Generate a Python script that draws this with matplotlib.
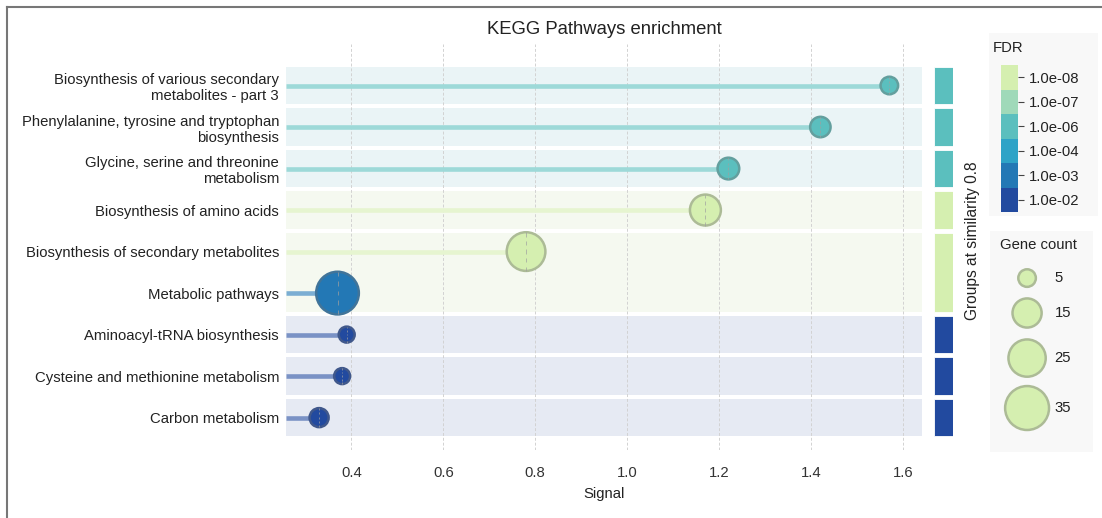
import numpy as np
import matplotlib
matplotlib.use("Agg")
import matplotlib.pyplot as plt
from matplotlib.colors import to_rgb
from matplotlib.path import Path
from matplotlib.lines import Line2D
from matplotlib.patches import Rectangle

plt.rcParams['font.family'] = ['Liberation Sans', 'DejaVu Sans']

# KEGG enrichment results, top to bottom
pathways = [
    "Biosynthesis of various secondary\nmetabolites - part 3",
    "Phenylalanine, tyrosine and tryptophan\nbiosynthesis",
    "Glycine, serine and threonine\nmetabolism",
    "Biosynthesis of amino acids",
    "Biosynthesis of secondary metabolites",
    "Metabolic pathways",
    "Aminoacyl-tRNA biosynthesis",
    "Cysteine and methionine metabolism",
    "Carbon metabolism",
]
signal = [1.57, 1.42, 1.22, 1.17, 0.78, 0.37, 0.39, 0.38, 0.33]
gene_count = [5, 7, 8, 17, 27, 33, 4, 4, 6]
fdr = ["1.0e-06", "1.0e-06", "1.0e-06", "1.0e-08", "1.0e-08",
       "1.0e-03", "1.0e-02", "1.0e-02", "1.0e-02"]

# similarity clusters (rows sharing an id share a block) and group FDR
cluster = [0, 1, 2, 3, 4, 4, 5, 6, 7]
group_fdr = ["1.0e-06", "1.0e-06", "1.0e-06", "1.0e-08", "1.0e-08",
             "1.0e-08", "1.0e-02", "1.0e-02", "1.0e-02"]

fdr_levels = ["1.0e-08", "1.0e-07", "1.0e-06", "1.0e-04", "1.0e-03", "1.0e-02"]
fdr_colors = ["#d5efb0", "#9fd9b9", "#5bbfbe", "#2ea3c7", "#2378b5", "#224a9f"]
band_colors = {"1.0e-06": "#eaf4f6", "1.0e-08": "#f5f9f0", "1.0e-02": "#e6eaf3"}

legend_counts = [5, 15, 25, 35]

W, H = 1102, 518
FS = 10.7


def color_of(level):
    return fdr_colors[fdr_levels.index(level)]


def mix(c, other, t):
    a = np.array(to_rgb(c))
    b = np.array(to_rgb(other))
    return tuple(a * (1 - t) + b * t)


def marker_area(c):
    return 28 * c + 20


def fig_rect(x0, y0, x1, y1):
    # pixel box -> figure fraction [left, bottom, width, height]
    return [x0 / W, 1 - y1 / H, (x1 - x0) / W, (y1 - y0) / H]


fig = plt.figure(figsize=(W / 100, H / 100), dpi=100)

# legend backgrounds, kept behind every axes
fig.patches.append(Rectangle((989 / W, 1 - 216 / H), 109 / W, 183 / H,
                             transform=fig.transFigure, facecolor="#f8f8f8",
                             edgecolor="none", zorder=-5))
fig.patches.append(Rectangle((990 / W, 1 - 452 / H), 103 / W, 221 / H,
                             transform=fig.transFigure, facecolor="#f8f8f8",
                             edgecolor="none", zorder=-5))

ax = fig.add_axes(fig_rect(286, 44, 922, 450))

rows = np.arange(len(pathways))
x_min, x_max = 0.258, 1.641
half = 0.45

# background blocks per cluster
for cid in sorted(set(cluster)):
    members = [i for i in rows if cluster[i] == cid]
    lo, hi = min(members), max(members)
    ax.axhspan(lo - half, hi + half, color=band_colors[group_fdr[lo]], lw=0, zorder=0)

# stems
for i in rows:
    c = color_of(fdr[i])
    ax.hlines(i, x_min, signal[i], color=mix(c, "white", 0.4), lw=3.3, zorder=2)

# circles
fills = [color_of(f) for f in fdr]
edges = [mix(c, "#6e6e6e", 0.4) for c in fills]
sizes = [marker_area(c) for c in gene_count]
ax.scatter(signal, rows, s=sizes, c=fills, edgecolors=edges, linewidths=1.8, zorder=3)

# dashed centre line inside each circle
verts, codes = [], []
for k in range(5):
    y0 = -0.9 + k * 0.4
    verts += [(0, y0), (0, y0 + 0.2)]
    codes += [Path.MOVETO, Path.LINETO]
dash_marker = Path(verts, codes)
ax.scatter(signal, rows, s=sizes, marker=dash_marker, facecolors="none",
           edgecolors="#a0a0a0", linewidths=0.7, alpha=0.7, zorder=4)

ax.set_xlim(x_min, x_max)
ax.set_ylim(8.78, -1.0)
ax.set_xticks([0.4, 0.6, 0.8, 1.0, 1.2, 1.4, 1.6])
ax.set_xticklabels(["0.4", "0.6", "0.8", "1.0", "1.2", "1.4", "1.6"])
ax.set_yticks(rows)
ax.set_yticklabels(pathways)
ax.tick_params(axis="y", length=0, pad=5, labelsize=FS, labelcolor="#222222")
ax.tick_params(axis="x", length=0, pad=11.5, labelsize=FS, labelcolor="#333333")
ax.set_axisbelow(True)
ax.grid(axis="x", color="#d2d2d2", linestyle=(0, (3, 2)), lw=0.7)
for sp in ax.spines.values():
    sp.set_visible(False)
ax.set_xlabel("Signal", fontsize=FS, color="#222222", labelpad=5)
ax.set_title("KEGG Pathways enrichment", fontsize=13.3, color="#222222", pad=7)

# group colour strip
gb = fig.add_axes(fig_rect(934, 44, 953, 450), sharey=ax)
for cid in sorted(set(cluster)):
    members = [i for i in rows if cluster[i] == cid]
    lo, hi = min(members), max(members)
    gb.add_patch(Rectangle((0, lo - half), 1, hi - lo + 2 * half,
                           facecolor=color_of(group_fdr[lo]), edgecolor="white", lw=0.6))
gb.set_xlim(0, 1)
gb.set_xticks([])
gb.tick_params(axis="y", left=False, labelleft=False)
for sp in gb.spines.values():
    sp.set_visible(False)
gb.yaxis.set_label_position("right")
gb.set_ylabel("Groups at similarity 0.8", fontsize=11.2, color="#222222", labelpad=8)
gb.yaxis.set_label_coords(1.65, 0.515)

# FDR colour key
cb = fig.add_axes(fig_rect(1001, 65, 1018, 212))
for i, c in enumerate(fdr_colors):
    cb.add_patch(Rectangle((0, i - 0.5), 1, 1, facecolor=c, edgecolor="none"))
cb.set_xlim(0, 1)
cb.set_ylim(5.5, -0.5)
cb.set_xticks([])
cb.set_yticks(range(len(fdr_levels)))
cb.set_yticklabels(fdr_levels)
cb.yaxis.tick_right()
cb.tick_params(axis="y", length=4, width=0.8, color="#444444", pad=4,
               labelsize=FS, labelcolor="#222222")
for sp in cb.spines.values():
    sp.set_visible(False)
fig.text(993 / W, 1 - 48 / H, "FDR", fontsize=FS, color="#222222", ha="left", va="center")

# gene count key
gl = fig.add_axes(fig_rect(990, 231, 1093, 452))
gl.set_xlim(0, 1)
gl.set_ylim(0, 1)
gl.axis("off")
gl.text(0.47, 0.937, "Gene count", fontsize=FS, color="#222222", ha="center", va="center")
key_y = [0.787, 0.629, 0.425, 0.199]
key_fill = fdr_colors[0]
gl.scatter([0.36] * len(legend_counts), key_y, s=[marker_area(c) for c in legend_counts],
           c=key_fill, edgecolors=mix(key_fill, "#6e6e6e", 0.4), linewidths=1.8)
for yv, cnt in zip(key_y, legend_counts):
    gl.text(0.625, yv, str(cnt), fontsize=FS, color="#222222", ha="left", va="center")

# outer frame (top and left edges)
fig.add_artist(Line2D([7 / W, 1], [1 - 7 / H, 1 - 7 / H], transform=fig.transFigure,
                      color="#777777", lw=1.5))
fig.add_artist(Line2D([7 / W, 7 / W], [0, 1 - 7 / H], transform=fig.transFigure,
                      color="#777777", lw=1.5))

fig.savefig("out.png", dpi=100)
